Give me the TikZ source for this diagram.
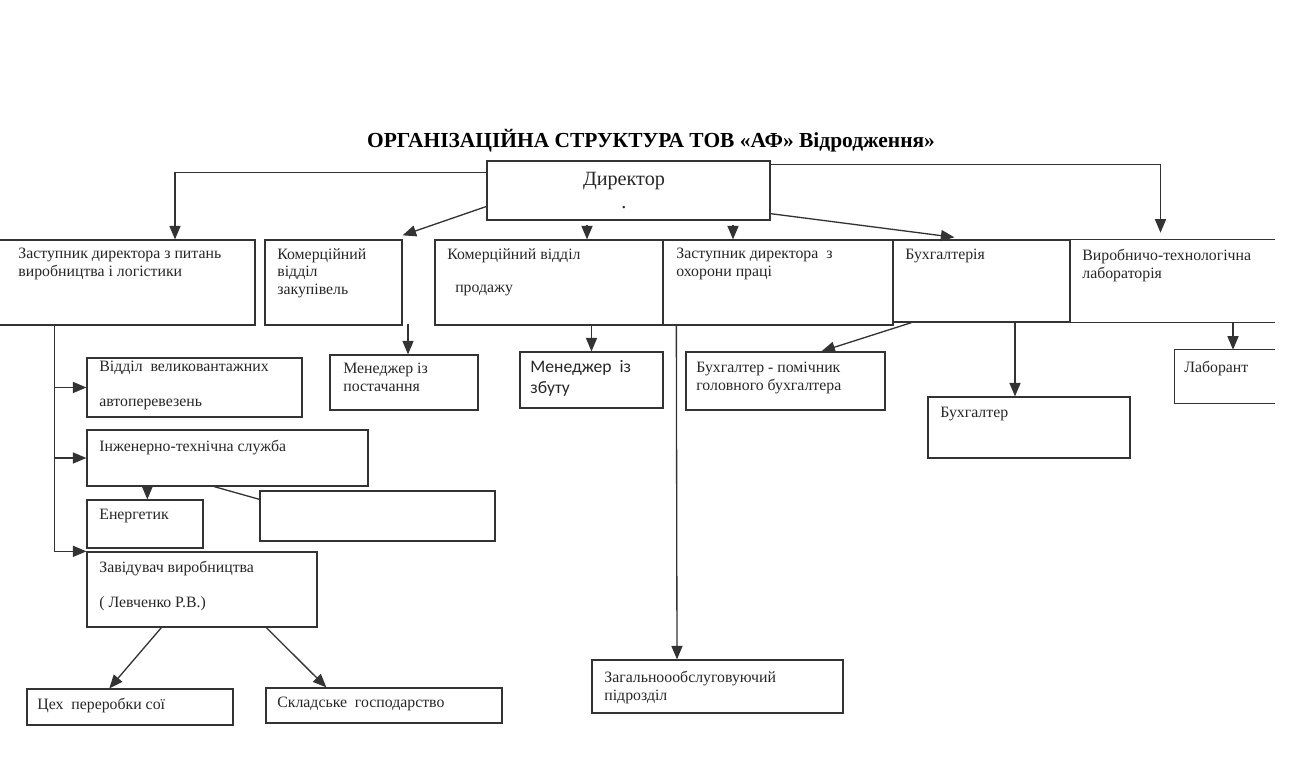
\documentclass[tikz,border=0pt]{standalone}
\usepackage{fontspec}
\setmainfont{Liberation Serif}
\newfontfamily\calibrifont{Carlito}
\usetikzlibrary{arrows,fit}

\begin{document}
\begin{tikzpicture}[x=0.02cm,y=-0.02cm,>=triangle 45]
	\tikzstyle{orgbox} = [draw=black!80,line width=0.75pt,inner sep=0pt]
	\tikzstyle{openbox} = [inner sep=0pt]
	\tikzstyle{lbl} = [anchor=north west,inner sep=0pt,align=left,text=black!85,font=\fontsize{9}{10}\selectfont]
	\tikzstyle{link} = [draw=black!80,line width=0.75pt]
	\useasboundingbox (0,0) rectangle (1289,767);

	\node[font=\bfseries\fontsize{12.2}{14}\selectfont] (title) at (651,141) {ОРГАНІЗАЦІЙНА СТРУКТУРА ТОВ «АФ» Відродження»};

	% boxes
	\node[orgbox,fit={(487,161) (770,220)}] (dir) {};
	\node[orgbox,fit={(-5,240) (255,325)}] (zast) {};
	\node[orgbox,fit={(265,240) (402,325)}] (zak) {};
	\node[orgbox,fit={(435,240) (663,325)}] (prod) {};
	\node[orgbox,fit={(663,240) (893,325)}] (okh) {};
	\node[orgbox,fit={(893,240) (1070,322)}] (buh) {};
	\node[openbox,fit={(1070,240) (1275,322)}] (lab) {};
	\draw[link] (lab.north east) -- (lab.north west) -- (lab.south west) -- (lab.south east);
	\node[orgbox,fit={(87,358) (302,417)}] (vvav) {};
	\node[orgbox,fit={(330,355) (478,410)}] (mpost) {};
	\node[orgbox,fit={(520,352) (663,408)}] (mzb) {};
	\node[orgbox,fit={(686,352) (885,410)}] (bpom) {};
	\node[orgbox,fit={(928,397) (1130,458)}] (bux) {};
	\node[openbox,fit={(1175,350) (1275,403)}] (labor) {};
	\draw[link] (labor.north east) -- (labor.north west) -- (labor.south west) -- (labor.south east);
	\node[orgbox,fit={(87,430) (368,486)}] (ineng) {};
	\node[orgbox,fit={(87,500) (203,548)}] (energ) {};
	\node[orgbox,fit={(260,491) (495,541)}] (empty) {};
	\node[orgbox,fit={(87,552) (317,627)}] (zav) {};
	\node[orgbox,fit={(27,689) (233,725)}] (cekh) {};
	\node[orgbox,fit={(266,688) (502,723)}] (sklad) {};
	\node[orgbox,fit={(592,660) (843,713)}] (zag) {};

	% texts
	\node[font=\fontsize{11.5}{13}\selectfont,align=center,anchor=north,inner sep=0pt,text=black!85] (dir-t) at (624,172) {Директор\\.};
	\node[lbl] (zast-t) at (18,248) {Заступник директора з питань\\виробництва і логістики};
	\node[lbl] (zak-t) at (277,248) {Комерційний\\відділ\\закупівель};
	\node[lbl] (prod-t) at (447,248) {Комерційний відділ\\[9pt]\ \ продажу};
	\node[lbl] (okh-t) at (676,248) {Заступник директора \ з\\охорони праці};
	\node[lbl] (buh-t) at (905,249) {Бухгалтерія};
	\node[lbl] (lab-t) at (1082,249) {Виробничо-технологічна\\лабораторія};
	\node[lbl] (vvav-t) at (99,361) {Відділ \ великовантажних\\[10pt]автоперевезень};
	\node[lbl] (mpost-t) at (343,363) {Менеджер із\\постачання};
	\node[lbl,font=\calibrifont\fontsize{10}{12}\selectfont] (mzb-t) at (530,360) {Менеджер \ із\\збуту};
	\node[lbl] (bpom-t) at (696,362) {Бухгалтер - помічник\\головного бухгалтера};
	\node[lbl] (bux-t) at (940,407) {Бухгалтер};
	\node[lbl] (labor-t) at (1184,361) {Лаборант};
	\node[lbl] (ineng-t) at (99,440) {Інженерно-технічна служба};
	\node[lbl] (energ-t) at (99,509) {Енергетик};
	\node[lbl] (zav-t) at (99,561) {Завідувач виробництва\\[10pt]( Левченко Р.В.)};
	\node[lbl] (cekh-t) at (37,698) {Цех \ переробки сої};
	\node[lbl] (sklad-t) at (277,697) {Складське \ господарство};
	\node[lbl] (zag-t) at (604,671) {Загальноообслуговуючий\\підрозділ};

	% links from the director
	\draw[link,->] ([shift={(0,-18)}]dir.west) -| ([shift={(50,0)}]zast.north);
	\draw[link,->] ([shift={(0,16)}]dir.west) -- ([shift={(0,-4)}]zak.north east);
	\draw[link,->] ([shift={(38,-14)}]prod.north) -- ([shift={(38,0)}]prod.north);
	\draw[link,->] ([shift={(-45,-14)}]okh.north) -- ([shift={(-45,0)}]okh.north);
	\draw[link,->] ([shift={(0,-7)}]dir.south east) -- ([shift={(62,-2)}]buh.north west);
	\draw[link,->] ([shift={(0,4)}]dir.north east) -| ([shift={(-12,-7)}]lab.north);

	% links below
	\draw[link,->] ([shift={(60,0)}]zast.south west) |- (zav.north west);
	\draw[link,->] ([shift={(-32,0)}]vvav.west) -- (vvav.west);
	\draw[link,->] ([shift={(-32,0)}]ineng.west) -- (ineng.west);
	\draw[link,->] ([shift={(61,0)}]ineng.south west) -- ([shift={(61,0)}]energ.north west);
	\draw[link] ([shift={(128,0)}]ineng.south west) -- ([shift={(0,9)}]empty.north west);
	\draw[link,->] ([shift={(75,0)}]zav.south west) -- ([shift={(83,0)}]cekh.north west);
	\draw[link,->] ([shift={(180,0)}]zav.south west) -- ([shift={(61,0)}]sklad.north west);
	\draw[link,->] ([shift={(4,-30)}]mpost.north) -- ([shift={(4,0)}]mpost.north);
	\draw[link,->] (mzb.north |- prod.south) -- (mzb.north);
	\draw[link,->] ([shift={(14,0)}]okh.south west) -- ([shift={(-40.5,0)}]zag.north);
	\draw[link,->] ([shift={(19,0)}]buh.south west) -- ([shift={(36,0)}]bpom.north);
	\draw[link,->] ([shift={(-14,-75)}]bux.north) -- ([shift={(-14,0)}]bux.north);
	\draw[link,->] ([shift={(8,-28)}]labor.north) -- ([shift={(8,0)}]labor.north);
\end{tikzpicture}
\end{document}
